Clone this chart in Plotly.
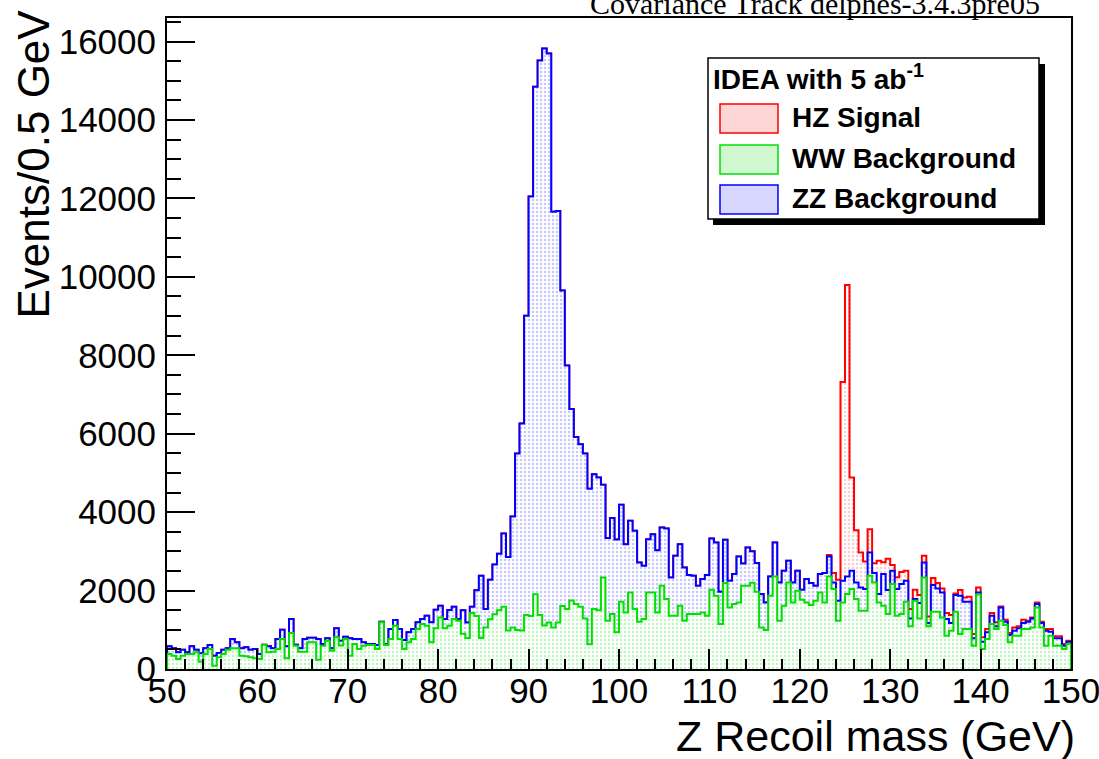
import plotly.graph_objects as go

# ---- histogram binning (Z recoil mass, 0.5 GeV bins) ----
x_lo, x_hi, bin_w = 50.0, 150.0, 0.5

# ---- bin contents (200 bins, 50 -> 150 GeV) ----
ww = [382, 340, 255, 340, 382, 382, 425, 187, 382, 509,
      85, 297, 382, 492, 526, 526, 340, 323, 297, 272,
      255, 611, 425, 441, 509, 764, 272, 917, 590, 441,
      441, 679, 679, 238, 594, 722, 467, 807, 600, 764,
      340, 637, 509, 594, 611, 611, 509, 1189, 611, 764,
      1104, 764, 509, 679, 764, 1019, 1146, 1104, 679, 1036,
      1316, 1036, 1104, 1274, 1231, 900, 793, 1427, 1353, 793,
      1057, 1268, 1395, 1501, 1585, 983, 1057, 994, 983, 1374,
      1353, 1903, 1374, 1110, 1184, 1057, 1184, 1607, 1533, 1744,
      1660, 1585, 1290, 634, 1533, 1501, 2330, 1231, 1401, 934,
      1715, 1443, 1953, 1528, 1206, 1274, 1953, 1953, 1443, 2123,
      1783, 1358, 1358, 1613, 1231, 1401, 1401, 1401, 1443, 1358,
      2021, 1868, 1146, 2190, 1571, 1656, 1698, 2123, 2123, 2200,
      1970, 1061, 993, 1868, 2360, 1231, 1613, 2207, 1698, 1995,
      1766, 1698, 1630, 1740, 1953, 1698, 2360, 2038, 1231, 1698,
      1910, 2038, 1783, 1486, 1486, 2377, 2207, 1698, 1613, 1401,
      2165, 1358, 1401, 1715, 1087, 1740, 1290, 2335, 1087, 1460,
      1460, 1316, 849, 976, 1460, 891, 1019, 1019, 594, 1900,
      509, 764, 1146, 1019, 1231, 1121, 679, 849, 849, 1019,
      1019, 1061, 1571, 1061, 594, 849, 594, 594, 509, 637]

zz = [195, 186, 170, 152, 43, 195, 67, 212, 144, 102,
      255, 111, 110, 34, 238, 153, 186, 229, 195, 237,
      127, 9, 152, 85, 255, 238, 305, 357, 30, 85,
      323, 119, 119, 526, 43, 59, 59, 229, 120, 59,
      441, 127, 255, 85, 26, 26, 102, 17, 17, 255,
      144, 255, 230, 255, 255, 170, 128, 254, 510, 475,
      297, 238, 399, 314, 43, 600, 391, 158, 655, 1585,
      476, 1005, 1269, 1437, 1871, 1871, 2833, 4502, 5274, 7632,
      10697, 12947, 14143, 14713, 14512, 10602, 10496, 8043, 6204, 4883,
      4259, 4144, 4206, 3964, 3435, 3382, 2370, 2109, 2449, 2366,
      2471, 1741, 1825, 1995, 1511, 1358, 1358, 1485, 1588, 1485,
      1800, 977, 1529, 1571, 1358, 993, 976, 722, 849, 1036,
      1307, 1358, 824, 1104, 679, 764, 1172, 568, 976, 800,
      730, 849, 705, 492, 866, 976, 892, 552, 509, 510,
      255, 594, 560, 382, 467, 747, 510, 169, 509, 552,
      450, 467, 424, 594, 552, 595, 238, 212, 807, 611,
      340, 680, 764, 535, 203, 43, 391, 382, 85, 679,
      595, 637, 425, 196, 425, 977, 696, 696, 187, 53,
      187, 170, 212, 68, 340, 85, 187, 127, 187, 153,
      187, 229, 85, 111, 382, 102, 187, 187, 85, 59]

hz = [0] * 146 + [
      35, 240, 535, 5070,
      7430, 2380, 1330, 890, 700, 590, 250, 850, 300, 800,
      150, 300, 310, 255, 238, 238, 204, 170, 169, 179,
      135, 102, 152, 203, 42, 144, 110, 127, 110, 127,
      111, 85, 68, 102, 25, 50, 51, 85, 51, 84,
      25, 26, 42, 34, 43, 68, 51, 51, 43, 26]

n_bins = len(ww)
edges = [x_lo + bin_w * i for i in range(n_bins + 1)]

# stacked totals (THStack style)
tot_ww = list(ww)
tot_zz = [a + b for a, b in zip(ww, zz)]
tot_hz = [a + b + c for a, b, c in zip(ww, zz, hz)]


def step(vals):
    xs = [edges[0]] + edges + [edges[-1]]
    ys = [0] + list(vals) + [vals[-1], 0]
    return xs, ys


# ---- pixel layout helpers (frame of the plot) ----
W, H = 1099, 759
L, R, T, B = 167, 1071, 18, 669


def pxx(p):
    return (p - L) / (R - L)


def pxy(p):
    return (B - p) / (B - T)


fig = go.Figure()

series = [
    ("HZ Signal", tot_hz, "rgb(255,0,0)", "rgb(255,150,150)"),
    ("ZZ Background", tot_zz, "rgb(0,0,255)", "rgb(140,140,255)"),
    ("WW Background", tot_ww, "rgb(0,225,0)", "rgb(130,235,130)"),
]
for name, vals, lc, pc in series:
    xs, ys = step(vals)
    fig.add_trace(go.Scatter(
        x=xs, y=ys, mode="lines", name=name, line_shape="hv",
        line=dict(color=lc, width=2),
        fill="tozeroy", fillcolor="white",
        fillpattern=dict(shape=".", fgcolor=pc, bgcolor="white",
                         size=4, solidity=0.3),
        showlegend=False, hoverinfo="skip"))

font = "Liberation Sans, Arial, Helvetica, sans-serif"

fig.update_xaxes(range=[x_lo, x_hi], showgrid=False, zeroline=False,
                 automargin=False,
                 showline=True, linecolor="black", linewidth=2, mirror=True,
                 ticks="inside", ticklen=20, tickwidth=1.5, tickcolor="black",
                 dtick=10, tick0=50, ticklabeloverflow="allow",
                 ticklabelstandoff=-10,
                 minor=dict(ticks="inside", ticklen=10, dtick=2, tick0=50,
                            tickwidth=1.5, tickcolor="black"),
                 tickfont=dict(family=font, size=35, color="black"))
fig.update_yaxes(range=[0, 16600], showgrid=False, zeroline=False,
                 automargin=False,
                 showline=True, linecolor="black", linewidth=2, mirror=True,
                 ticks="inside", ticklen=28, tickwidth=1.5, tickcolor="black",
                 dtick=2000, tick0=0, tickformat="d", ticklabeloverflow="allow",
                 ticklabelstandoff=2,
                 minor=dict(ticks="inside", ticklen=14, dtick=500, tick0=0,
                            tickwidth=1.5, tickcolor="black"),
                 tickfont=dict(family=font, size=35, color="black"))

shapes = []
# legend shadow + box
shapes.append(dict(type="rect", xref="paper", yref="paper",
                   x0=pxx(713), x1=pxx(1045), y0=pxy(225), y1=pxy(64),
                   fillcolor="black", line=dict(width=0)))
shapes.append(dict(type="rect", xref="paper", yref="paper",
                   x0=pxx(708), x1=pxx(1039), y0=pxy(219), y1=pxy(58),
                   fillcolor="white", line=dict(color="black", width=1.5)))
leg_items = [("HZ Signal", "rgb(255,0,0)", "rgba(255,120,120,0.3)", 104, 133),
             ("WW Background", "rgb(0,225,0)", "rgba(100,230,100,0.3)", 145, 174),
             ("ZZ Background", "rgb(0,0,255)", "rgba(120,120,255,0.3)", 185, 214)]
annotations = []
for name, lc, fc, y0, y1 in leg_items:
    shapes.append(dict(type="rect", xref="paper", yref="paper",
                       x0=pxx(720), x1=pxx(778), y0=pxy(y1), y1=pxy(y0),
                       fillcolor=fc, line=dict(color=lc, width=1.5)))
    annotations.append(dict(xref="paper", yref="paper", x=pxx(790),
                            y=pxy((y0 + y1) / 2 - 1), xanchor="left", yanchor="middle",
                            text="<b>%s</b>" % name, showarrow=False,
                            font=dict(family=font, size=28, color="black")))
annotations.append(dict(xref="paper", yref="paper", x=pxx(711), y=pxy(77),
                        xanchor="left", yanchor="middle",
                        text="<b>IDEA with 5 ab<sup>-1</sup></b>", showarrow=False,
                        font=dict(family=font, size=28, color="black")))
# title (Times-like, partly cut at the top)
annotations.append(dict(xref="paper", yref="paper", x=pxx(815), y=pxy(22),
                        xanchor="center", yanchor="bottom",
                        text="Covariance Track delphes-3.4.3pre05", showarrow=False,
                        font=dict(family="Liberation Serif, Times New Roman, serif",
                                  size=30, color="black")))
# axis titles
annotations.append(dict(xref="paper", yref="paper", x=pxx(1077), y=pxy(736),
                        xanchor="right", yanchor="middle",
                        text="Z Recoil mass (GeV)", showarrow=False,
                        font=dict(family=font, size=43, color="black")))
annotations.append(dict(xref="paper", yref="paper", x=pxx(33), y=pxy(8),
                        xanchor="center", yanchor="top", textangle=-90,
                        text="Events/0.5 GeV", showarrow=False,
                        font=dict(family=font, size=44, color="black")))

fig.update_layout(width=W, height=H,
                  margin=dict(l=L, r=W - R, t=T, b=H - B, pad=0, autoexpand=False),
                  plot_bgcolor="white", paper_bgcolor="white",
                  shapes=shapes, annotations=annotations, showlegend=False)

fig.write_html("out.html")
